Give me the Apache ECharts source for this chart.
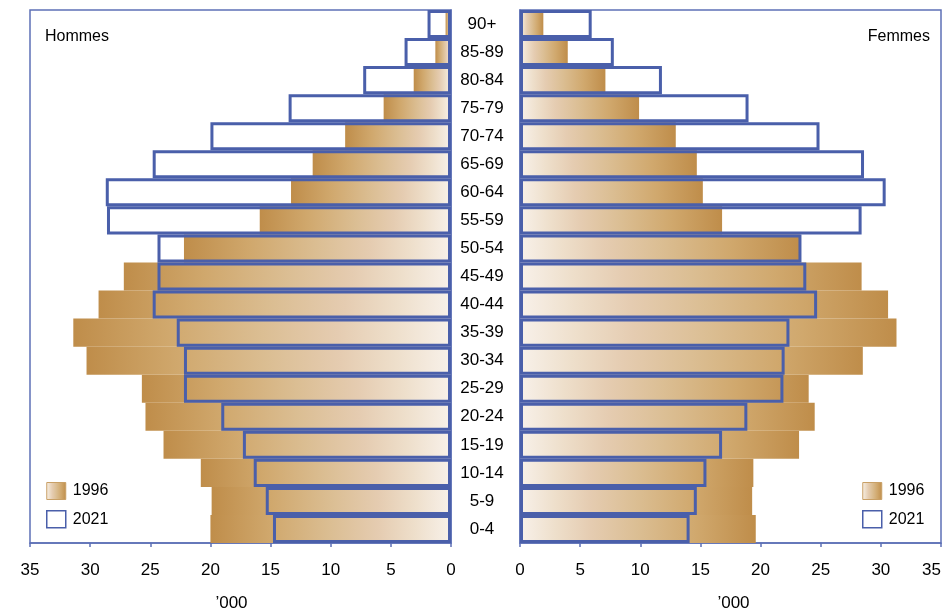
<!DOCTYPE html>
<html><head><meta charset="utf-8">
<script src="https://cdn.jsdelivr.net/npm/echarts@6/dist/echarts.min.js"></script>
<style>html,body{margin:0;padding:0;background:#fff}#c{width:947px;height:613px}</style>
</head><body><div id="c"></div>
<script>
const categories = ['0-4','5-9','10-14','15-19','20-24','25-29','30-34','35-39','40-44','45-49','50-54','55-59','60-64','65-69','70-74','75-79','80-84','85-89','90+'];
const men1996   = [20.0,19.9,20.8,23.9,25.4,25.7,30.3,31.4,29.3,27.2,22.2,15.9,13.3,11.5,8.8,5.6,3.1,1.3,0.45];
const men2021   = [14.8,15.4,16.4,17.3,19.1,22.2,22.2,22.8,24.8,24.4,24.4,28.6,28.7,24.8,20.0,13.5,7.3,3.86,1.95];
const women1996 = [19.6,19.3,19.4,23.2,24.5,24.0,28.5,31.3,30.6,28.4,23.3,16.8,15.2,14.7,12.95,9.9,7.1,3.97,1.94];
const women2021 = [14.1,14.7,15.5,16.8,18.9,21.9,22.0,22.4,24.7,23.8,23.4,28.4,30.4,28.6,24.9,19.0,11.8,7.8,5.96];
const xTicks = {min:0, max:35, interval:5};
const axisTitle = '’000';
const sideTitles = ['Hommes','Femmes'];
const seriesNames = ['1996','2021'];

const FONT = "'Liberation Sans',Arial,sans-serif";
const BLUE = '#4A5FAA';
const FRAME = '#5E70B6';
const stops = [['#BF8D4A',0],['#D0A86D',0.25],['#DBBE93',0.5],['#E5CCB1',0.7],['#EEDFCB',0.85],['#F8F1EA',1]];
function grad(reverse){
  return new echarts.graphic.LinearGradient(0,0,1,0, stops.map(s=>({offset: reverse?1-s[1]:s[1], color:s[0]})));
}
const chart = echarts.init(document.getElementById('c'));
const xAxisBase = (gi, inverse, pad, extraLabel) => ({
  type:'value', gridIndex:gi, inverse, min:xTicks.min, max:xTicks.max, interval:xTicks.interval,
  splitLine:{show:false},
  axisLine:{show:true, lineStyle:{color:FRAME, width:1.5}},
  axisTick:{show:true, inside:false, length:4, lineStyle:{color:FRAME, width:1.5}},
  axisLabel:Object.assign({color:'#000', fontSize:17, fontFamily:FONT, margin:19}, extraLabel),
  name:axisTitle, nameLocation:'middle', nameGap:52,
  nameTextStyle:{color:'#000', fontSize:17, fontFamily:FONT, padding:pad}
});
const outline = {color:'rgba(255,255,255,0)', borderColor:BLUE, borderWidth:3};
const legendBase = (left) => ({
  left, top:477, orient:'vertical', itemWidth:19, itemHeight:17, itemGap:10, icon:'rect', selectedMode:false,
  textStyle:{fontSize:16, color:'#000', fontFamily:FONT, padding:[0,0,0,2]},
  data:[{name:seriesNames[0], icon:'rect', itemStyle:{color:grad(true), borderColor:'#C9A066', borderWidth:1}},
        {name:seriesNames[1], icon:'rect', itemStyle:{color:'#fff', borderColor:BLUE, borderWidth:1.5}}]
});
chart.setOption({
  animation:false,
  title:[
    {text:sideTitles[0], left:40, top:24, textStyle:{fontSize:16, fontWeight:'normal', color:'#000', fontFamily:FONT}},
    {text:sideTitles[1], right:12, top:24, textStyle:{fontSize:16, fontWeight:'normal', color:'#000', fontFamily:FONT}}
  ],
  legend:[legendBase(41), legendBase(857)],
  grid:[
    {left:30, right:496, top:10, bottom:70, show:true, borderColor:FRAME, borderWidth:1.5, containLabel:false, outerBoundsMode:'none'},
    {left:520, right:6, top:10, bottom:70, show:true, borderColor:FRAME, borderWidth:1.5, containLabel:false, outerBoundsMode:'none'}
  ],
  xAxis:[xAxisBase(0,true,[0,18,0,0],{}), xAxisBase(1,false,[0,0,0,6],{alignMaxLabel:'right'})],
  yAxis:[
    {type:'category', gridIndex:0, position:'right', data:categories,
     axisLine:{show:true, lineStyle:{color:FRAME,width:1.5}}, axisTick:{show:false}, axisLabel:{show:false}},
    {type:'category', gridIndex:1, position:'left', data:categories,
     axisLine:{show:true, lineStyle:{color:FRAME,width:1.5}}, axisTick:{show:false},
     axisLabel:{color:'#000', fontSize:17, fontFamily:FONT, align:'center', margin:38}}
  ],
  series:[
    {name:seriesNames[0], type:'bar', xAxisIndex:0, yAxisIndex:0, data:men1996, barCategoryGap:'0%', barGap:'-100%',
     itemStyle:{color:grad(false)}},
    {name:seriesNames[1], type:'bar', xAxisIndex:0, yAxisIndex:0, data:men2021, barCategoryGap:'0%', barGap:'-100%',
     itemStyle:outline},
    {name:seriesNames[0], type:'bar', xAxisIndex:1, yAxisIndex:1, data:women1996, barCategoryGap:'0%', barGap:'-100%',
     itemStyle:{color:grad(true)}},
    {name:seriesNames[1], type:'bar', xAxisIndex:1, yAxisIndex:1, data:women2021, barCategoryGap:'0%', barGap:'-100%',
     itemStyle:outline}
  ]
});
</script></body></html>
